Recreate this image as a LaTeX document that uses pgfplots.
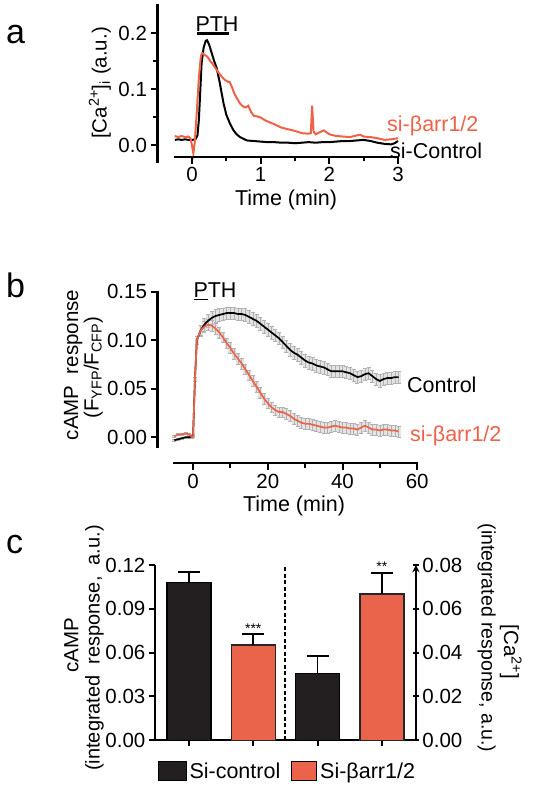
\documentclass[border=0pt]{standalone}
\usepackage{pgfplots}
\pgfplotsset{compat=1.18}
\usepackage{pgfplotstable}
\usepackage{fontspec}
\setmainfont{Liberation Sans}
\definecolor{myred}{RGB}{238,98,72}
\definecolor{barred}{RGB}{234,100,76}
\definecolor{barblack}{RGB}{35,31,32}

\pgfplotstableread{
t v
-0.25 0.010
-0.20 0.011
-0.15 0.010
-0.10 0.011
-0.05 0.010
0.00 0.010
0.05 0.011
0.08 0.018
0.10 0.045
0.12 0.095
0.14 0.147
0.17 0.175
0.20 0.187
0.22 0.188
0.25 0.180
0.28 0.168
0.32 0.152
0.36 0.138
0.40 0.115
0.43 0.095
0.46 0.075
0.50 0.055
0.55 0.040
0.60 0.028
0.65 0.020
0.70 0.015
0.75 0.012
0.80 0.009
0.90 0.008
1.00 0.007
1.10 0.006
1.20 0.006
1.30 0.005
1.40 0.005
1.50 0.004
1.60 0.005
1.70 0.006
1.80 0.005
1.90 0.006
2.00 0.006
2.10 0.007
2.20 0.008
2.30 0.008
2.40 0.009
2.50 0.010
2.60 0.008
2.70 0.005
2.80 0.003
2.90 0.002
2.95 0.004
3.00 0.008
}\tabAblack

\pgfplotstableread{
t v
-0.25 0.017
-0.20 0.015
-0.15 0.017
-0.10 0.015
-0.05 0.016
-0.02 0.012
0.00 0.000
0.02 -0.014
0.04 0.005
0.07 0.060
0.10 0.120
0.13 0.160
0.15 0.165
0.18 0.162
0.21 0.160
0.24 0.156
0.27 0.150
0.30 0.146
0.33 0.140
0.36 0.135
0.40 0.128
0.44 0.122
0.48 0.117
0.52 0.114
0.55 0.113
0.58 0.105
0.62 0.092
0.66 0.083
0.70 0.075
0.74 0.070
0.78 0.068
0.82 0.071
0.86 0.060
0.90 0.053
0.95 0.052
1.00 0.050
1.05 0.046
1.10 0.043
1.20 0.038
1.30 0.032
1.40 0.029
1.50 0.026
1.60 0.022
1.70 0.021
1.73 0.022
1.75 0.071
1.77 0.025
1.80 0.020
1.85 0.023
1.92 0.027
2.00 0.020
2.10 0.017
2.20 0.016
2.30 0.015
2.40 0.018
2.45 0.019
2.50 0.016
2.60 0.015
2.70 0.013
2.80 0.010
2.90 0.011
3.00 0.013
}\tabAred

\pgfplotstableread{
t c ce r re
-5 -0.003 0.001 0.001 0.001
-4 -0.002 0.001 0.003 0.001
-3 -0.001 0.001 0.003 0.001
-2 0.000 0.001 0.004 0.001
-1 0.000 0.001 0.003 0.001
-0.3 0.001 0.001 0.000 0.001
0 0.002 0.001 0.001 0.001
0.5 0.060 0.002 0.060 0.002
1 0.100 0.004 0.100 0.004
2 0.110 0.006 0.110 0.005
3 0.116 0.0065 0.114 0.0055
4 0.120 0.0065 0.116 0.0055
5 0.123 0.0065 0.115 0.0055
6 0.125 0.0065 0.112 0.0055
7 0.126 0.0065 0.108 0.0055
8 0.127 0.0065 0.103 0.0055
9 0.128 0.0065 0.097 0.0055
10 0.128 0.0065 0.092 0.0055
11 0.128 0.0065 0.086 0.0055
12 0.127 0.0065 0.081 0.0055
13 0.127 0.0065 0.076 0.0055
14 0.126 0.0065 0.070 0.0055
15 0.124 0.0065 0.064 0.0055
16 0.122 0.0065 0.058 0.0055
17 0.120 0.0065 0.052 0.0055
18 0.117 0.0065 0.046 0.0055
19 0.114 0.0065 0.040 0.0055
20 0.111 0.0065 0.035 0.0055
21 0.108 0.0065 0.031 0.0055
22 0.105 0.0065 0.028 0.0055
23 0.102 0.0065 0.026 0.0055
24 0.098 0.0065 0.026 0.0055
25 0.094 0.0065 0.024 0.0055
26 0.090 0.0065 0.022 0.0055
27 0.087 0.0065 0.019 0.0055
28 0.085 0.0065 0.017 0.0055
29 0.082 0.0065 0.015 0.0055
30 0.079 0.0065 0.014 0.0055
31 0.077 0.0065 0.014 0.0055
32 0.076 0.0065 0.013 0.0055
33 0.074 0.0065 0.012 0.0055
34 0.073 0.0065 0.011 0.0055
35 0.072 0.0065 0.010 0.0055
36 0.070 0.0065 0.010 0.0055
37 0.068 0.0065 0.011 0.0055
38 0.068 0.0065 0.012 0.0055
39 0.068 0.0065 0.011 0.0055
40 0.068 0.0065 0.010 0.0055
41 0.067 0.0065 0.010 0.0055
42 0.066 0.0065 0.009 0.0055
43 0.064 0.0065 0.009 0.0055
44 0.062 0.0065 0.008 0.0055
45 0.063 0.0065 0.010 0.0055
46 0.065 0.0065 0.012 0.0055
47 0.066 0.0065 0.010 0.0055
48 0.063 0.0065 0.008 0.0055
49 0.060 0.0065 0.008 0.0055
50 0.058 0.0065 0.007 0.0055
51 0.060 0.0065 0.008 0.0055
52 0.061 0.0065 0.008 0.0055
53 0.061 0.0065 0.007 0.0055
54 0.062 0.0065 0.007 0.0055
55 0.062 0.0065 0.006 0.0055
}\tabB

\pgfplotsset{
  prism/.style={
    scale only axis,
    axis x line=bottom, axis y line=left,
    axis line style={-, line width=2.2pt},
    tick align=outside,
    major tick length=7pt, minor tick length=4.5pt,
    major tick style={line width=2pt, black},
    minor tick style={line width=2pt, black},
    tick label style={font=\fontsize{20.5}{24}\selectfont},
    /pgf/number format/assume math mode=true,
    scaled y ticks=false,
    clip=false,
  },
  yprec/.style={yticklabel style={/pgf/number format/fixed, /pgf/number format/fixed zerofill, /pgf/number format/precision=#1}},
  band/.style={draw=none, mark=none, forget plot,
    error bars/.cd, y dir=both, y explicit, error bar style={#1}},
}
\tikzset{lab/.style={inner sep=0pt, font=\fontsize{21.5}{25}\selectfont},
  ylab/.style={inner sep=0pt, font=\fontsize{20.5}{24}\selectfont, anchor=base},
  axl/.style={line width=2.2pt, line cap=rect}}

\begin{document}
\begin{tikzpicture}[x=1pt,y=1pt]
\useasboundingbox (0,0) rectangle (534,-791);

% ---------------- panel a ----------------
\begin{axis}[prism, width=240.5pt, height=151.2pt, at={(157.5pt,-156.7pt)}, anchor=south west,
  xmin=-0.502, xmax=3, ymin=-0.02, ymax=0.25,
  axis line style={draw=none},
  xtick={0,1,2,3}, minor xtick={0.5,1.5,2.5},
  ytick={0,0.1,0.2}, minor ytick={0.05,0.15},
  yprec=1,
]
\addplot[black, line width=2pt] table[x=t,y=v] {\tabAblack};
\addplot[myred, line width=2pt] table[x=t,y=v] {\tabAred};
\draw[line width=2.2pt] (axis cs:0.077,0.2) -- (axis cs:0.543,0.2);
\draw[axl] (axis cs:-0.25,-0.02) -- (axis cs:3,-0.02);
\draw[axl] (axis cs:-0.502,-0.03) -- (axis cs:-0.502,0.25);
\end{axis}
\node[lab, font=\fontsize{34}{40}\selectfont, anchor=base west] at (6,-44) {a};
\node[ylab, rotate=90] at (106.5,-83) {[Ca\textsuperscript{2+}]\textsubscript{i} (a.u.)};
\node[lab, anchor=base] at (286,-206) {Time (min)};
\node[lab] at (217,-23.8) {PTH};
\node[lab, anchor=west, text=myred] at (387,-125.5) {si-βarr1/2};
\node[lab, anchor=west] at (390,-151) {si-Control};

% ---------------- panel b ----------------
\begin{axis}[prism, width=259.7pt, height=171.6pt, at={(157.5pt,-463.3pt)}, anchor=south west,
  xmin=-9.53, xmax=60, ymin=-0.0268, ymax=0.15,
  axis line style={draw=none},
  xtick={0,20,40,60}, minor xtick={10,30,50},
  ytick={0,0.05,0.1,0.15},
  yprec=2,
]
\addplot[band={gray!22, line width=4pt}] table[x=t, y=c, y error=ce] {\tabB};
\addplot[band={gray!22, line width=4pt}] table[x=t, y=r, y error=re] {\tabB};
\addplot[band={gray!60, line width=0.5pt}] table[x=t, y=c, y error=ce] {\tabB};
\addplot[band={gray!60, line width=0.5pt}] table[x=t, y=r, y error=re] {\tabB};
\addplot[black, line width=1.7pt] table[x=t, y=c] {\tabB};
\addplot[myred, line width=1.7pt] table[x=t, y=r] {\tabB};
\draw[axl] (axis cs:-5,-0.0268) -- (axis cs:60,-0.0268);
\draw[axl] (axis cs:-9.53,-0.01) -- (axis cs:-9.53,0.15);
\end{axis}
\node[lab, font=\fontsize{34}{40}\selectfont, anchor=base west] at (6,-297) {b};
\node[ylab, rotate=90] at (78,-365) {cAMP\ \ response};
\node[ylab, rotate=90] at (98.5,-367.5) {(F\textsubscript{YFP}/F\textsubscript{CFP})};
\node[lab, anchor=base] at (294,-511.5) {Time (min)};
\node[lab, anchor=base west] at (193.3,-297.3) {\underline{P}TH};
\node[lab, anchor=west] at (407,-385) {Control};
\node[lab, anchor=west, text=myred] at (410,-436) {si-βarr1/2};

% ---------------- panel c ----------------
\begin{axis}[prism, width=261pt, height=175.3pt, at={(154.9pt,-740.3pt)}, anchor=south west,
  xmin=-0.53, xmax=3.53, ymin=0, ymax=0.12,
  xtick={0,1,2,3}, xticklabels={},
  major tick length=6pt,
  ytick={0,0.03,0.06,0.09,0.12}, yprec=2,
]
\addplot[ybar, bar width=44pt, bar shift=0pt, fill=barblack, draw=black, line width=1.5pt,
  error bars/.cd, y dir=plus, y explicit, error bar style={line width=1.8pt, black},
  error mark options={rotate=90, mark size=11pt, line width=1.8pt, black}]
  coordinates {(0,0.108) +- (0,0.0072)};
\addplot[ybar, bar width=44pt, bar shift=0pt, fill=barred, draw=black!85, line width=1.5pt,
  error bars/.cd, y dir=plus, y explicit, error bar style={line width=1.8pt, black},
  error mark options={rotate=90, mark size=11pt, line width=1.8pt, black}]
  coordinates {(1,0.0654) +- (0,0.0075)};
\draw[line width=2pt, dash pattern=on 4pt off 2.5pt] (axis cs:1.5,0) -- (axis cs:1.5,0.12);
\node[inner sep=0pt, font=\fontsize{14}{16}\selectfont, anchor=base] at (axis cs:1,0.0728) {***};
\end{axis}
\begin{axis}[prism, width=261pt, height=175.3pt, at={(154.9pt,-740.3pt)}, anchor=south west,
  xmin=-0.53, xmax=3.53, ymin=0, ymax=0.08,
  axis x line=none, axis y line=right, xtick=\empty,
  major tick length=6pt,
  ytick={0,0.02,0.04,0.06,0.08}, yprec=2,
]
\addplot[ybar, bar width=44pt, bar shift=0pt, fill=barblack, draw=black, line width=1.5pt,
  error bars/.cd, y dir=plus, y explicit, error bar style={line width=1.8pt, black},
  error mark options={rotate=90, mark size=11pt, line width=1.8pt, black}]
  coordinates {(2,0.0305) +- (0,0.0078)};
\addplot[ybar, bar width=44pt, bar shift=0pt, fill=barred, draw=black!85, line width=1.5pt,
  error bars/.cd, y dir=plus, y explicit, error bar style={line width=1.8pt, black},
  error mark options={rotate=90, mark size=11pt, line width=1.8pt, black}]
  coordinates {(3,0.0667) +- (0,0.0098)};
\node[inner sep=0pt, font=\fontsize{14}{16}\selectfont, anchor=base] at (axis cs:3,0.0771) {**};
\end{axis}
\node[lab, font=\fontsize{34}{40}\selectfont, anchor=base west] at (6,-553) {c};
\node[ylab, rotate=90] at (78.3,-645) {cAMP};
\node[ylab, rotate=90, font=\fontsize{20}{24}\selectfont] at (99.5,-648) {(integrated\ \ response,\ \ a.u.)};
\node[ylab, rotate=-90] at (504,-652) {[Ca\textsuperscript{2+}]};
\node[ylab, rotate=-90, font=\fontsize{19.5}{24}\selectfont] at (481.7,-638) {(integrated response, a.u.)};
\draw[fill=barblack, draw=black, line width=1pt] (158.3,-761.7) rectangle (186.7,-780);
\node[lab, anchor=base west] at (189.3,-778.3) {Si-control};
\draw[fill=barred, draw=black, line width=1pt] (291.7,-761.7) rectangle (316.7,-780);
\node[lab, anchor=base west] at (320,-778.3) {Si-βarr1/2};
\end{tikzpicture}
\end{document}
